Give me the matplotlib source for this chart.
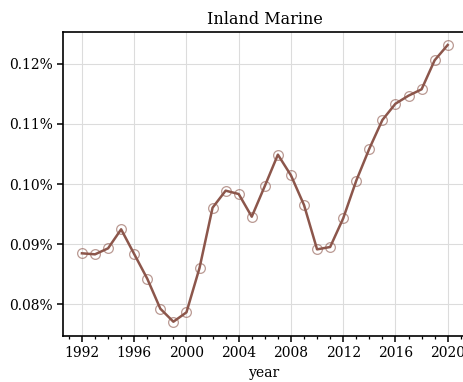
import matplotlib
matplotlib.use("Agg")
import matplotlib.pyplot as plt
from matplotlib.ticker import MultipleLocator, PercentFormatter

# loss ratio share per year, in percent
years = list(range(1992, 2021))
share_pct = [
    0.08845, 0.08828, 0.08928, 0.09245, 0.08833, 0.08422, 0.07922, 0.07705,
    0.07861, 0.08600, 0.09605, 0.09889, 0.09833, 0.09455, 0.09967, 0.10489,
    0.10144, 0.09650, 0.08911, 0.08950, 0.09428, 0.10056, 0.10589, 0.11067,
    0.11338, 0.11472, 0.11578, 0.12062, 0.12317,
]

plt.rcParams["font.family"] = "DejaVu Serif"
brown = "#8c564b"

fig = plt.figure(figsize=(4.63, 3.82), dpi=100)
ax = fig.add_axes([63 / 463, 46 / 382, 403 / 463, 304 / 382])

ax.plot(years, share_pct, color=brown, lw=1.8, zorder=3)
ax.plot(years, share_pct, ls="none", marker="o", ms=7, mfc="none",
        mec=brown, mew=0.9, alpha=0.6, zorder=4)

ax.set_xlim(1990.55, 2021.4)
ax.set_ylim(0.07467, 0.12533)
ax.xaxis.set_major_locator(MultipleLocator(4))
ax.xaxis.set_minor_locator(MultipleLocator(1))
ax.yaxis.set_major_locator(MultipleLocator(0.01))
ax.yaxis.set_major_formatter(PercentFormatter(xmax=100, decimals=2))

ax.grid(True, which="major", color="#dcdcdc", lw=0.8)
ax.set_axisbelow(True)
ax.tick_params(which="major", length=4, width=1.1, labelsize=10)
ax.tick_params(which="minor", length=2.5, width=0.9)
for side in ("left", "bottom", "top"):
    ax.spines[side].set_linewidth(1.2)
ax.spines["right"].set_visible(False)

ax.set_title("Inland Marine", fontsize=11.5)
ax.set_xlabel("year", fontsize=10)

fig.savefig("out.png", dpi=100)
